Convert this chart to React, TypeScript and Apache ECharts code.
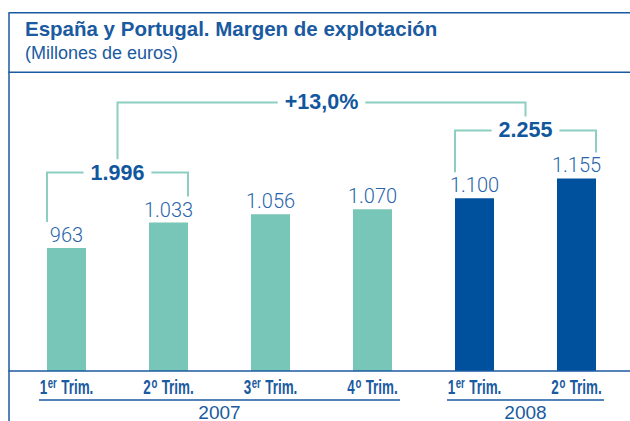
import React, { useEffect, useRef } from "react";
import * as echarts from "echarts";

// ---- data ----
const categories = ["1er Trim.", "2o Trim.", "3er Trim.", "4o Trim.", "1er Trim.", "2o Trim."];
const years = ["2007", "2008"];
const yearOfCategory = [0, 0, 0, 0, 1, 1];
const values = [963, 1033, 1056, 1070, 1100, 1155];

const titleText = "España y Portugal. Margen de explotación";
const subtitleText = "(Millones de euros)";

// ---- styles ----
const TEAL = "#77c6b8";
const DARK = "#00519d";
const LINE_TEAL = "#8ccfc2";
const BLUE = "#1a5aa0";
const LABEL_BLUE = "#2865ab";
const SANS = "'Liberation Sans', Arial, sans-serif";

const fmt = (v: number) => String(v).replace(/\B(?=(\d{3})+(?!\d))/g, ".");

export default function App() {
  const ref = useRef<HTMLDivElement>(null);
  useEffect(() => {
    document.body.style.margin = "0";
    const chart = echarts.init(ref.current!, null, { renderer: "svg" });
    chart.setOption({
      animation: false,
      title: {
        text: titleText,
        subtext: subtitleText,
        left: 25,
        top: 16,
        padding: 0,
        itemGap: 2,
        textStyle: { color: BLUE, fontFamily: SANS, fontWeight: "bold", fontSize: 20.5, lineHeight: 24 },
        subtextStyle: { color: BLUE, fontFamily: SANS, fontSize: 18, lineHeight: 22 },
      },
      grid: { left: 15.5, right: 2.5, top: 72, bottom: 50 },
      xAxis: {
        type: "category",
        data: categories,
        axisLine: { show: false },
        axisTick: { show: false },
        axisLabel: { show: false },
      },
      yAxis: { type: "value", min: 623, max: 1449, show: false, splitLine: { show: false } },
      series: [
        {
          type: "bar",
          barWidth: 39,
          data: values.map((v, i) => ({
            value: v,
            itemStyle: { color: yearOfCategory[i] === 0 ? TEAL : DARK },
          })),
          label: {
            show: true,
            position: "top",
            distance: 3,
            formatter: (p: any) => fmt(p.value),
            color: LABEL_BLUE,
            fontFamily: "Roboto, sans-serif",
            fontWeight: 300,
            fontSize: 20,
          },
        },
      ],
    });

    const px = (i: number, v: number) =>
      chart.convertToPixel({ xAxisIndex: 0, yAxisIndex: 0 }, [i, v]) as number[];
    const cx = values.map((v, i) => px(i, v)[0]);
    const top = values.map((v, i) => px(i, v)[1]);
    const base = px(0, 623)[1];
    const half = 19.5;

    const graphics: any[] = [];
    const hline = (x1: number, x2: number, y: number, w = 1.5, color = BLUE) =>
      graphics.push({ type: "line", shape: { x1, y1: y, x2, y2: y }, style: { stroke: color, lineWidth: w }, z: 5 });
    const vline = (x: number, y1: number, y2: number) =>
      graphics.push({ type: "line", shape: { x1: x, y1, x2: x, y2 }, style: { stroke: BLUE, lineWidth: 1.5 }, z: 5 });

    // frame
    vline(9, 12.7, 421);
    hline(8.5, 630, 12.7);
    hline(8.5, 630, 72.3);
    hline(8.5, 630, base);

    // category labels (condensed bold, with superscript ordinal)
    categories.forEach((c, i) => {
      const m = c.match(/^(\d)(\S+) (.*)$/);
      const text = m ? `{n|${m[1]}}{s|${m[2]}}{t| ${m[3]}}` : c;
      graphics.push({
        type: "group",
        x: cx[i],
        y: base + 15,
        scaleX: 0.64,
        z: 6,
        children: [
          {
            type: "text",
            x: 0,
            y: 0,
            style: {
              text,
              align: "center",
              verticalAlign: "middle",
              rich: {
                n: { fontFamily: SANS, fontWeight: "bold", fontSize: 21, fill: BLUE, lineHeight: 22, verticalAlign: "bottom" },
                s: { fontFamily: SANS, fontWeight: "bold", fontSize: 15, fill: BLUE, lineHeight: 15, padding: [0, 1, 6, 1], verticalAlign: "bottom" },
                t: { fontFamily: SANS, fontWeight: "bold", fontSize: 21, fill: BLUE, lineHeight: 22, verticalAlign: "bottom" },
              },
            },
          },
        ],
      });
    });

    // year groups
    const groups = years.map((_, y) => {
      const idx = yearOfCategory.map((g, i) => (g === y ? i : -1)).filter((i) => i >= 0);
      return [idx[0], idx[idx.length - 1]];
    });
    groups.forEach(([a, b], y) => {
      hline(cx[a] - 27.5, cx[b] + 27.5, base + 29, 1.5);
      graphics.push({
        type: "text",
        x: (cx[a] + cx[b]) / 2,
        y: base + 41,
        z: 6,
        style: { text: years[y], fill: BLUE, fontFamily: SANS, fontSize: 19, lineHeight: 17, align: "center", verticalAlign: "middle" },
      });
    });

    // brackets
    const bracket = (x1: number, y1: number, x2: number, y2: number, level: number, text: string) => {
      graphics.push({
        type: "polyline",
        shape: { points: [[x1, y1], [x1, level], [x2, level], [x2, y2]] },
        style: { stroke: LINE_TEAL, lineWidth: 2, fill: null },
        z: 5,
      });
      graphics.push({
        type: "text",
        x: (x1 + x2) / 2,
        y: level,
        z: 10,
        style: {
          text,
          fill: "#11579e",
          fontFamily: SANS,
          fontWeight: "bold",
          fontSize: 21.5,
          align: "center",
          verticalAlign: "middle",
          backgroundColor: "#fff",
          padding: [2, 7],
        },
      });
    };
    const sumA = values[0] + values[1];
    const sumB = values[4] + values[5];
    const growth = (sumB / sumA - 1) * 100;
    const LA = Math.min(top[0], top[1]) - 50;
    const LB = Math.min(top[4], top[5]) - 48;
    const LC = LB - 28;
    bracket(cx[0] - half, top[0] - 26, cx[1] + half, top[1] - 26, LA, fmt(sumA));
    bracket(cx[4] - half, top[4] - 26, cx[5] + half, top[5] - 26, LB, fmt(sumB));
    bracket(
      (cx[0] + cx[1]) / 2,
      LA - 13,
      (cx[4] + cx[5]) / 2,
      LB - 14,
      LC,
      "+" + growth.toFixed(1).replace(".", ",") + "%"
    );

    chart.setOption({ graphic: graphics });
    return () => chart.dispose();
  }, []);
  return <div ref={ref} style={{ width: 630, height: 421 }} />;
}
